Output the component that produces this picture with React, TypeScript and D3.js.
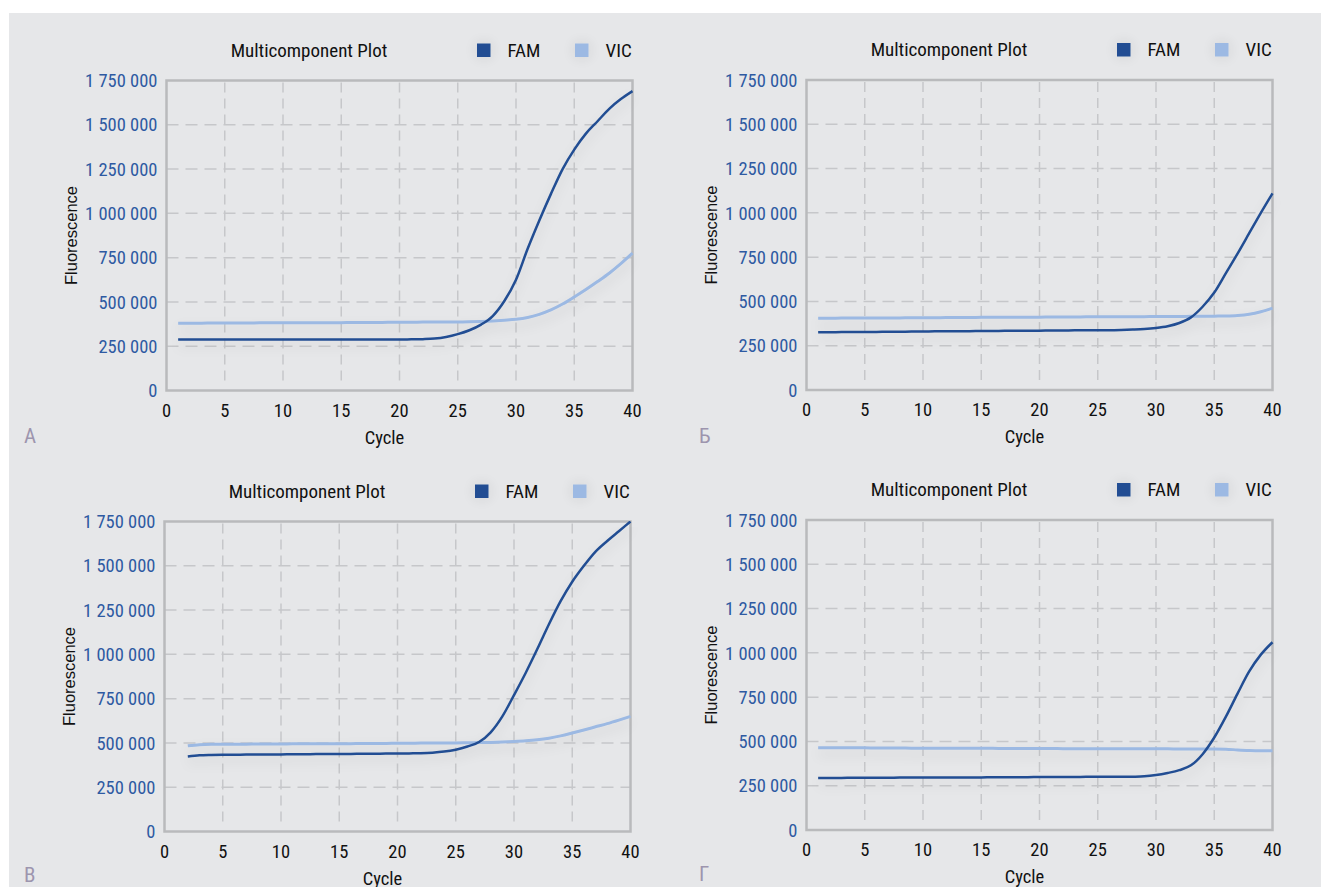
import { curveMonotoneX, formatLocale, line, scaleLinear } from "d3";

// cycles shared by panels А, Б, Г (panel В starts at cycle 2)
const cycles = [1, 2, 3, 4, 5, 6, 7, 8, 9, 10, 11, 12, 13, 14, 15, 16, 17, 18, 19, 20,
  21, 22, 23, 24, 25, 26, 27, 28, 29, 30, 31, 32, 33, 34, 35, 36, 37, 38, 39, 40];
const cyclesB = cycles.slice(1);

const famA = [288000, 288000, 288000, 288000, 288000, 288000, 288000, 288000, 288000, 288000,
  288000, 288000, 288000, 288000, 288000, 288000, 288000, 288000, 288000, 288000,
  289000, 290000, 293000, 302000, 318000, 340000, 372000, 420000, 505000, 625000,
  800000, 960000, 1110000, 1250000, 1360000, 1450000, 1520000, 1590000, 1645000, 1690000];
const vicA = [380000, 380000, 380000, 381000, 381000, 381000, 381000, 382000, 382000, 382000,
  382000, 383000, 383000, 383000, 383000, 384000, 384000, 384000, 385000, 385000,
  385000, 386000, 386000, 387000, 387000, 388000, 390000, 393000, 397000, 402000,
  412000, 430000, 455000, 488000, 528000, 570000, 615000, 662000, 716000, 775000];

const famBe = [326000, 326000, 327000, 327000, 328000, 328000, 329000, 329000, 330000, 330000,
  331000, 331000, 332000, 332000, 333000, 333000, 334000, 334000, 335000, 335000,
  336000, 336000, 337000, 337000, 338000, 338000, 339000, 341000, 344000, 350000,
  360000, 378000, 410000, 470000, 550000, 660000, 770000, 885000, 1000000, 1110000];
const vicBe = [405000, 405000, 406000, 406000, 406000, 407000, 407000, 407000, 408000, 408000,
  408000, 409000, 409000, 409000, 410000, 410000, 410000, 411000, 411000, 411000,
  412000, 412000, 412000, 413000, 413000, 413000, 414000, 414000, 414000, 415000,
  415000, 415000, 416000, 416000, 417000, 418000, 421000, 428000, 442000, 462000];

const famVe = [423000, 430000, 432000, 433000, 433000, 434000, 434000, 435000, 435000,
  436000, 436000, 437000, 437000, 438000, 438000, 439000, 439000, 440000, 440000,
  441000, 442000, 445000, 451000, 462000, 480000, 505000, 560000, 650000, 770000,
  895000, 1030000, 1170000, 1300000, 1410000, 1500000, 1580000, 1640000, 1695000, 1750000];
const vicVe = [484000, 490000, 492000, 492000, 493000, 493000, 494000, 494000, 494000,
  495000, 495000, 495000, 496000, 496000, 496000, 497000, 497000, 497000, 498000,
  498000, 499000, 499000, 500000, 500000, 501000, 502000, 503000, 505000, 508000,
  512000, 518000, 527000, 540000, 556000, 573000, 591000, 609000, 629000, 650000];

const famGe = [294000, 294000, 294000, 295000, 295000, 295000, 295000, 296000, 296000, 296000,
  296000, 297000, 297000, 297000, 297000, 298000, 298000, 298000, 298000, 299000,
  299000, 299000, 299000, 300000, 300000, 300000, 300000, 301000, 303000, 310000,
  322000, 338000, 365000, 428000, 522000, 640000, 770000, 895000, 990000, 1060000];
const vicGe = [465000, 465000, 464000, 464000, 464000, 463000, 463000, 463000, 462000, 462000,
  462000, 462000, 461000, 461000, 461000, 461000, 460000, 460000, 460000, 460000,
  460000, 459000, 459000, 459000, 459000, 459000, 458000, 458000, 458000, 458000,
  458000, 457000, 457000, 457000, 457000, 456000, 452000, 449000, 448000, 448000];

const seriesNames = ["FAM", "VIC"];
const panelLetters = ["А", "Б", "В", "Г"];
const xTicks = [0, 5, 10, 15, 20, 25, 30, 35, 40];
const yTicks = [0, 250000, 500000, 750000, 1000000, 1250000, 1500000, 1750000];
const xDomain = [0, 40];
const yDomain = [0, 1750000];

const NARROW = "'Liberation Sans Narrow', 'Arial Narrow', 'Roboto Condensed', 'DejaVu Sans Condensed', sans-serif";
const SANS = "'Liberation Sans', Arial, sans-serif";
const FAM_COLOR = "#214e93";
const VIC_COLOR = "#9cb9e3";
const TICK_BLUE = "#2e5aa2";

const fmt = formatLocale({ decimal: ",", thousands: " ", grouping: [3], currency: ["", ""] }).format(",");

const W = 466;
const H = 310;

const panels = [
  { left: 166.5, top: 80.5, letter: panelLetters[0], lx: 24, ly: 443, cycles, fam: famA, vic: vicA },
  { left: 806.5, top: 80, letter: panelLetters[1], lx: 699, ly: 443, cycles, fam: famBe, vic: vicBe },
  { left: 164.5, top: 521.5, letter: panelLetters[2], lx: 24, ly: 882, cycles: cyclesB, fam: famVe, vic: vicVe },
  { left: 806.5, top: 520, letter: panelLetters[3], lx: 699, ly: 881, cycles, fam: famGe, vic: vicGe },
];

export default function App() {
  return (
    <svg width={1321} height={887} style={{ position: "absolute", left: 0, top: 0 }}>
      <defs>
        <filter id="lineShadow" filterUnits="userSpaceOnUse" x="0" y="0" width="1321" height="887">
          <feGaussianBlur in="SourceAlpha" stdDeviation="6" />
          <feOffset dy="6" result="blur" />
          <feFlood floodColor="#000" floodOpacity="0.1" />
          <feComposite in2="blur" operator="in" />
          <feMerge>
            <feMergeNode />
            <feMergeNode in="SourceGraphic" />
          </feMerge>
        </filter>
        <filter id="glow" x="-150%" y="-150%" width="400%" height="400%">
          <feGaussianBlur in="SourceAlpha" stdDeviation="7" />
          <feComponentTransfer>
            <feFuncA type="linear" slope="0.12" />
          </feComponentTransfer>
          <feMerge>
            <feMergeNode />
            <feMergeNode in="SourceGraphic" />
          </feMerge>
        </filter>
      </defs>
      <rect x={0} y={0} width={1321} height={887} fill="#fff" />
      <rect x={9} y={13} width={1312} height={874} fill="#e6e7e9" />
      {panels.map((p) => (
        <Panel key={p.letter} {...p} />
      ))}
    </svg>
  );
}

function Panel({ left, top, letter, lx, ly, cycles, fam, vic }) {
  const scaleX = scaleLinear().domain(xDomain).range([0, W]);
  const scaleY = scaleLinear().domain(yDomain).range([H, 0]);
  const path = line()
    .x((d) => scaleX(d[0]))
    .y((d) => scaleY(d[1]))
    .curve(curveMonotoneX);
  const famPts = cycles.map((c, i) => [c, fam[i]]);
  const vicPts = cycles.map((c, i) => [c, vic[i]]);

  return (
    <>
      <text x={lx} y={ly} fontFamily={NARROW} fontSize={21} fill="#9d95ae">
        {letter}
      </text>
      <g transform={`translate(${left}, ${top})`}>
        <Grid scaleX={scaleX} scaleY={scaleY} />
        <rect x={0} y={0} width={W} height={H} fill="none" stroke="#b9babc" strokeWidth={2.5} />
        <AxisLeft scale={scaleY} />
        <AxisBottom scale={scaleX} />
        <g filter="url(#lineShadow)">
          <path d={path(vicPts)} fill="none" stroke={VIC_COLOR} strokeWidth={3} />
          <path d={path(famPts)} fill="none" stroke={FAM_COLOR} strokeWidth={2.5} />
        </g>
        <text x={142.5} y={-24} textAnchor="middle" fontFamily={NARROW} fontSize={19} fill="#111">
          Multicomponent Plot
        </text>
        <Legend />
        <text x={218} y={363} textAnchor="middle" fontFamily={NARROW} fontSize={18.5} fill="#111">
          Cycle
        </text>
        <text
          transform={`translate(-90, ${H / 2}) rotate(-90)`}
          textAnchor="middle"
          fontFamily={SANS}
          fontSize={16.5}
          fill="#111"
        >
          Fluorescence
        </text>
      </g>
    </>
  );
}

function Grid({ scaleX, scaleY }) {
  return (
    <g stroke="#c6c7ca" strokeWidth={1.5} fill="none">
      {yTicks.filter((t) => t > 0 && t < yDomain[1]).map((t) => (
        <line key={`h${t}`} x1={0} x2={W} y1={scaleY(t)} y2={scaleY(t)} strokeDasharray="12 7" />
      ))}
      {xTicks.filter((t) => t > 0 && t < xDomain[1]).map((t) => (
        <line key={`v${t}`} x1={scaleX(t)} x2={scaleX(t)} y1={2} y2={H - 5} strokeDasharray="10 6" />
      ))}
    </g>
  );
}

function AxisLeft({ scale }) {
  return (
    <g fontFamily={NARROW} fontSize={18.5} fill={TICK_BLUE} textAnchor="end">
      {yTicks.map((t) => (
        <text key={t} x={-9} y={scale(t)} dy="0.36em">
          {fmt(t)}
        </text>
      ))}
    </g>
  );
}

function AxisBottom({ scale }) {
  return (
    <g fontFamily={NARROW} fontSize={18.5} fill="#111" textAnchor="middle">
      {xTicks.map((t) => (
        <text key={t} x={scale(t)} y={H + 26}>
          {t}
        </text>
      ))}
    </g>
  );
}

function Legend() {
  const items = [
    { name: seriesNames[0], color: FAM_COLOR, x: 310.5 },
    { name: seriesNames[1], color: VIC_COLOR, x: 408.5 },
  ];
  return (
    <g>
      {items.map((it) => (
        <g key={it.name}>
          <rect x={it.x} y={-37} width={13.5} height={13.5} fill={it.color} filter="url(#glow)" />
          <text x={it.x + 30.5} y={-24} fontFamily={NARROW} fontSize={19} fill="#111">
            {it.name}
          </text>
        </g>
      ))}
    </g>
  );
}
